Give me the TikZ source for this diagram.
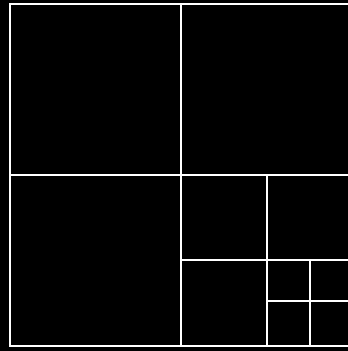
\documentclass[tikz,border=0pt]{standalone}
\begin{document}
\begin{tikzpicture}[x=1pt,y=-1pt,
  gridline/.style={draw=white,line width=2pt}]
\fill[black] (0,0) rectangle (348,351);
\useasboundingbox (0,0) rectangle (348,351);
\coordinate (tl) at (10,3.5);
\coordinate (br) at (352,345.5);
\draw[gridline] (tl) rectangle (br);
% first level
\draw[gridline] (181,3.5) -- (181,345.5);
\draw[gridline] (10,174.5) -- (352,174.5);
% second level (bottom-right quadrant)
\draw[gridline] (266.5,174.5) -- (266.5,345.5);
\draw[gridline] (181,259.5) -- (352,259.5);
% third level
\draw[gridline] (309.5,259.5) -- (309.5,345.5);
\draw[gridline] (266.5,300.5) -- (352,300.5);
\end{tikzpicture}
\end{document}
